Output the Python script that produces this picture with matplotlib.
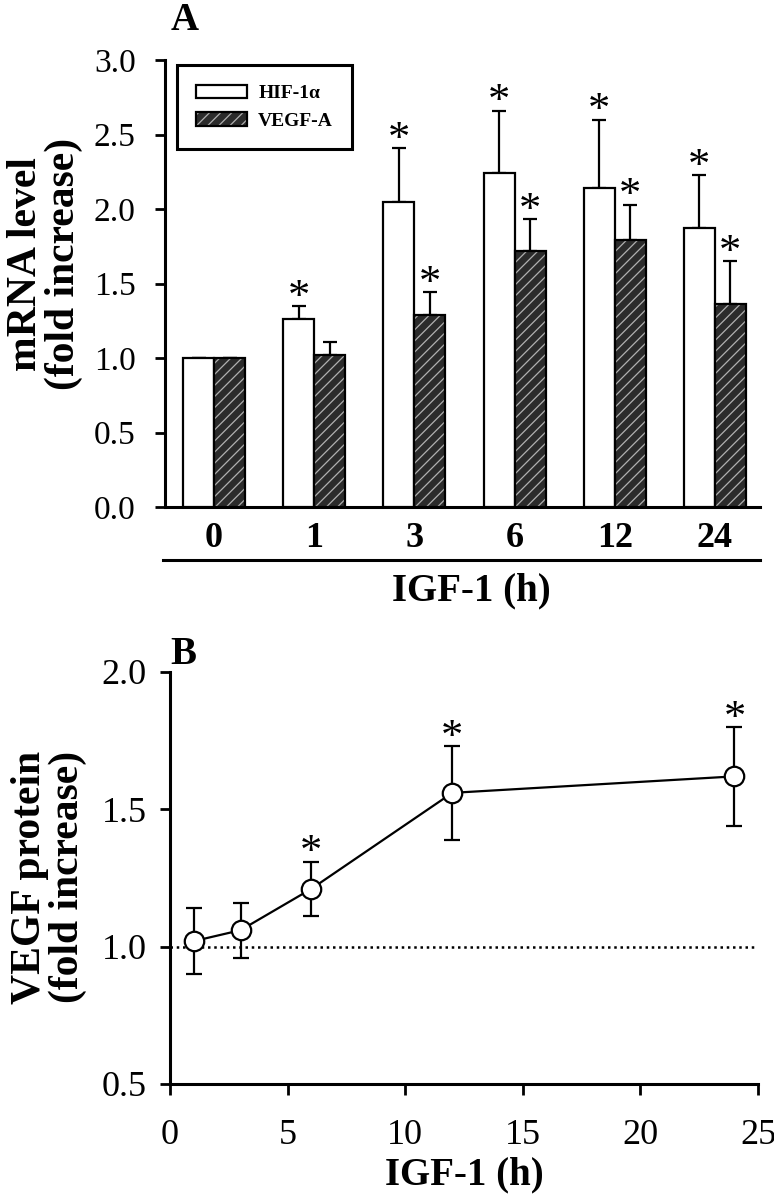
import matplotlib
matplotlib.use("Agg")
import matplotlib.pyplot as plt
from matplotlib.patches import Patch
from matplotlib.legend_handler import HandlerTuple
from matplotlib.lines import Line2D
import numpy as np

# panel A - mRNA
casy = ["0", "1", "3", "6", "12", "24"]
hif = [1.0, 1.26, 2.05, 2.24, 2.14, 1.87]
hif_err = [0.0, 0.09, 0.36, 0.42, 0.46, 0.36]
hif_hvezda = [False, True, True, True, True, True]
vegf = [1.0, 1.02, 1.29, 1.72, 1.79, 1.36]
vegf_err = [0.0, 0.09, 0.15, 0.21, 0.24, 0.29]
vegf_hvezda = [False, False, True, True, True, True]

# panel B - protein
hodiny = [1, 3, 6, 12, 24]
protein = [1.02, 1.06, 1.21, 1.56, 1.62]
protein_err = [0.12, 0.10, 0.10, 0.17, 0.18]
protein_hvezda = [False, False, True, True, True]

plt.rcParams['font.family'] = ['Liberation Serif', 'DejaVu Serif']
plt.rcParams['hatch.linewidth'] = 0.9

W, H = 774, 1200
fig = plt.figure(figsize=(W / 100, H / 100), dpi=100)

def px(x, y):
    return x / W, 1 - y / H

def hvezda(ax, xx, yy):
    # hvezdicka tesne nad chybovou useckou
    ax.annotate("*", (xx, yy), xytext=(0, -2), textcoords="offset points",
                ha="center", va="baseline", fontsize=32)

# ---- A ----
axA = fig.add_axes([165 / W, 1 - 507 / H, 595 / W, 447 / H])
x = np.arange(len(casy))
sirka = 0.31
tmava = "#2b2b2b"
axA.bar(x - sirka / 2, hif, sirka, color="white", edgecolor="black", linewidth=1.6, zorder=3)
axA.bar(x + sirka / 2, vegf, sirka, color=tmava, edgecolor="#b0b0b0", hatch="///", linewidth=0, zorder=3)
axA.bar(x + sirka / 2, vegf, sirka, fill=False, edgecolor="black", linewidth=1.6, zorder=4)
nuly = [0] * len(casy)
axA.errorbar(x - sirka / 2, hif, yerr=[nuly, hif_err], fmt="none", ecolor="black",
             elinewidth=1.6, capsize=5, capthick=1.6, zorder=2)
axA.errorbar(x + sirka / 2, vegf, yerr=[nuly, vegf_err], fmt="none", ecolor="black",
             elinewidth=1.6, capsize=5, capthick=1.6, zorder=2)
for i in range(len(casy)):
    if hif_hvezda[i]:
        hvezda(axA, x[i] - sirka / 2, hif[i] + hif_err[i])
    if vegf_hvezda[i]:
        hvezda(axA, x[i] + sirka / 2, vegf[i] + vegf_err[i])

axA.set_xlim(-0.49, 5.45)
axA.set_ylim(0, 3.0)
axA.set_yticks([0, 0.5, 1.0, 1.5, 2.0, 2.5, 3.0])
axA.set_yticklabels(["0.0", "0.5", "1.0", "1.5", "2.0", "2.5", "3.0"])
axA.set_xticks(x)
axA.set_xticklabels(casy, fontweight="bold", fontsize=26)
axA.tick_params(axis="x", length=0, pad=11)
axA.tick_params(axis="y", labelsize=24, length=7, width=2, pad=14)
for s in ["top", "right"]:
    axA.spines[s].set_visible(False)
for s in ["left", "bottom"]:
    axA.spines[s].set_linewidth(2.2)

h1 = Patch(facecolor="white", edgecolor="black", linewidth=1.6)
h2 = (Patch(facecolor=tmava, edgecolor="#b0b0b0", hatch="///", linewidth=0),
      Patch(fill=False, edgecolor="black", linewidth=1.6))
leg = axA.legend([h1, h2], ["HIF-1α", "VEGF-A"], loc="upper left", bbox_to_anchor=(0.003, 1.01),
                 handler_map={tuple: HandlerTuple(ndivide=1)}, prop={"weight": "bold", "size": 14},
                 handlelength=2.6, handletextpad=0.6, labelspacing=0.5, borderpad=1.0,
                 fancybox=False, framealpha=1, edgecolor="black")
leg.get_frame().set_linewidth(2.2)

fig.add_artist(Line2D([163 / W, 760 / W], [1 - 560 / H, 1 - 560 / H], color="black", linewidth=2.2))
fig.text(*px(185, 21), "A", fontsize=28, fontweight="bold", ha="center", va="center")
fig.text(*px(471, 591), "IGF-1 (h)", fontsize=28, fontweight="bold", ha="center", va="center")
fig.text(*px(45, 264), "mRNA level\n(fold increase)", fontsize=30, fontweight="bold",
         ha="center", va="center", rotation=90, linespacing=1.0)

# ---- B ----
axB = fig.add_axes([170 / W, 1 - 1084 / H, 588 / W, 412 / H])
axB.axhline(1.0, color="black", linestyle=(0, (1, 1.5)), linewidth=1.8, zorder=1)
axB.errorbar(hodiny, protein, yerr=protein_err, fmt="-o", color="black", mfc="white", mec="black",
             ms=14, mew=1.6, linewidth=1.6, elinewidth=1.6, capsize=6, capthick=1.6, zorder=3)
for i in range(len(hodiny)):
    if protein_hvezda[i]:
        hvezda(axB, hodiny[i], protein[i] + protein_err[i])
axB.set_xlim(0, 25)
axB.set_ylim(0.5, 2.0)
axB.set_xticks([0, 5, 10, 15, 20, 25])
axB.set_yticks([0.5, 1.0, 1.5, 2.0])
axB.set_yticklabels(["0.5", "1.0", "1.5", "2.0"])
axB.tick_params(axis="x", labelsize=26, length=8, width=2, pad=17)
axB.tick_params(axis="y", labelsize=26, length=7, width=2, pad=10)
for s in ["top", "right"]:
    axB.spines[s].set_visible(False)
for s in ["left", "bottom"]:
    axB.spines[s].set_linewidth(2.2)

fig.text(*px(183, 655), "B", fontsize=28, fontweight="bold", ha="center", va="center")
fig.text(*px(464, 1175), "IGF-1 (h)", fontsize=28, fontweight="bold", ha="center", va="center")
fig.text(*px(49, 877), "VEGF protein\n(fold increase)", fontsize=30, fontweight="bold",
         ha="center", va="center", rotation=90, linespacing=1.0)

fig.savefig("out.png", dpi=100)
